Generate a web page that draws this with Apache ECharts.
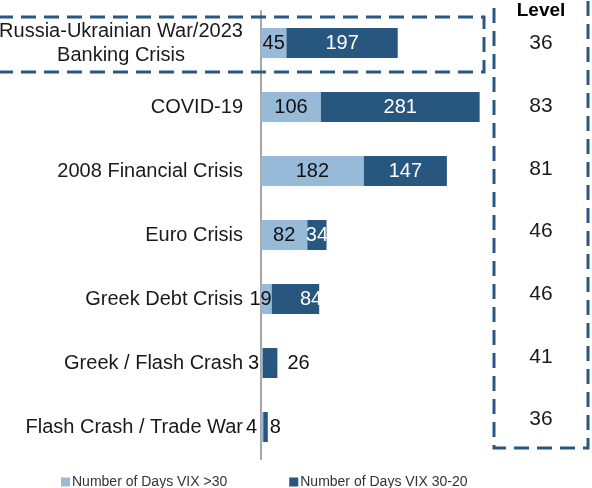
<!DOCTYPE html>
<html>
<head>
<meta charset="utf-8">
<script src="https://cdn.jsdelivr.net/npm/echarts@6/dist/echarts.min.js"></script>
<style>
  html, body { margin: 0; padding: 0; background: #fff; }
  #chart { width: 592px; height: 488px; }
</style>
</head>
<body>
<div id="chart"></div>
<script>
// 数据
const categories = [
  'Russia-Ukrainian War/2023\nBanking Crisis',
  'COVID-19',
  '2008 Financial Crisis',
  'Euro Crisis',
  'Greek Debt Crisis',
  'Greek / Flash Crash',
  'Flash Crash / Trade War'
]
const daysAbove30 = [45, 106, 182, 82, 19, 3, 4]
const days30to20 = [197, 281, 147, 34, 84, 26, 8]
const levels = [36, 83, 81, 46, 46, 41, 36]

const FONT = '"Liberation Sans", Arial, sans-serif'
const LIGHT = '#98bad9'
const DARK = '#27567f'
const DASH = '#2a5884'

// 小数值标签的位置微调
const lightLabelFix = {
  4: { position: 'insideRight', distance: 0 },
  5: { position: 'left', distance: 2 },
  6: { position: 'left', distance: 4 }
}
const darkLabelFix = {
  4: { position: 'insideRight', distance: -3 },
  5: { position: 'right', distance: 10, color: '#111' },
  6: { position: 'right', distance: 2, color: '#111' }
}

const chart = echarts.init(document.getElementById('chart'))

const option = {
  animation: false,
  textStyle: { fontFamily: FONT },
  grid: [
    { left: 261, right: 105, top: 11, bottom: 29, outerBoundsMode: 'none', containLabel: false },
    { left: 494, right: 4, top: 12, bottom: 37, outerBoundsMode: 'none', containLabel: false }
  ],
  legend: {
    left: 56,
    top: 470,
    itemWidth: 9,
    itemHeight: 9,
    itemGap: 62,
    icon: 'rect',
    textStyle: { fontSize: 14, color: '#333', fontFamily: FONT, padding: [0, 0, 0, -3] },
    data: ['Number of Days VIX >30', 'Number of Days VIX 30-20']
  },
  xAxis: [
    { type: 'value', gridIndex: 0, min: 0, max: 400, show: false },
    { type: 'value', gridIndex: 1, min: 0, max: 1, show: false }
  ],
  yAxis: [
    {
      type: 'category',
      gridIndex: 0,
      inverse: true,
      data: categories,
      axisLine: { lineStyle: { color: '#a6a6a6', width: 2 } },
      axisTick: { length: 6, lineStyle: { color: '#a6a6a6', width: 2 } },
      splitLine: { show: false },
      axisLabel: {
        interval: 0,
        margin: 18,
        fontSize: 20,
        color: '#1a1a1a',
        fontFamily: FONT,
        formatter: (v, i) => {
          if (v.indexOf('\n') < 0) return v
          return v.split('\n').map(s => '{c|' + s + '}').join('\n')
        },
        rich: {
          c: { width: 244, align: 'center', fontSize: 20, lineHeight: 24, fontFamily: FONT, color: '#1a1a1a' }
        }
      }
    },
    {
      type: 'category',
      gridIndex: 1,
      inverse: true,
      data: categories,
      axisLine: { show: false },
      axisTick: { show: false },
      splitLine: { show: false },
      axisLabel: {
        inside: true,
        interval: 0,
        margin: 47,
        align: 'center',
        fontSize: 21,
        color: '#1a1a1a',
        fontFamily: FONT,
        formatter: (v, i) => String(levels[i])
      }
    }
  ],
  series: [
    {
      name: 'Number of Days VIX >30',
      type: 'bar',
      stack: 'days',
      barWidth: 30,
      itemStyle: { color: LIGHT },
      label: { show: true, position: 'inside', color: '#111', fontSize: 20, fontFamily: FONT },
      data: daysAbove30.map((v, i) => ({ value: v, label: lightLabelFix[i] }))
    },
    {
      name: 'Number of Days VIX 30-20',
      type: 'bar',
      stack: 'days',
      barWidth: 30,
      itemStyle: { color: DARK },
      label: { show: true, position: 'inside', color: '#fff', fontSize: 20, fontFamily: FONT },
      data: days30to20.map((v, i) => ({ value: v, label: darkLabelFix[i] }))
    }
  ],
  graphic: [
    {
      type: 'rect',
      shape: { x: -2, y: 17, width: 486, height: 55 },
      style: { fill: 'none', stroke: DASH, lineWidth: 3, lineDash: [15, 8] },
      z: 10
    },
    {
      type: 'rect',
      shape: { x: 494, y: -20, width: 94, height: 468 },
      style: { fill: 'none', stroke: DASH, lineWidth: 3, lineDash: [15, 8] },
      z: 10
    },
    {
      type: 'text',
      x: 541,
      y: 11,
      style: {
        text: 'Level',
        font: 'bold 19px "Liberation Sans Narrow", "Liberation Sans", Arial, sans-serif',
        fill: '#000',
        align: 'center',
        verticalAlign: 'middle'
      }
    }
  ]
}

chart.setOption(option)
</script>
</body>
</html>
